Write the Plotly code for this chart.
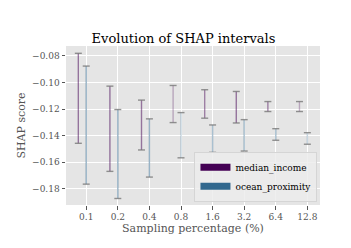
import plotly.graph_objects as go

sampling_labels = ["0.1", "0.2", "0.4", "0.8", "1.6", "3.2", "6.4", "12.8"]
median_income_low = [-0.1457, -0.1668, -0.1507, -0.1301, -0.1268, -0.1304, -0.1218, -0.1218]
median_income_high = [-0.0780, -0.1027, -0.1132, -0.1022, -0.1054, -0.1067, -0.1143, -0.1143]
ocean_proximity_low = [-0.1764, -0.1872, -0.1711, -0.1566, -0.1525, -0.1515, -0.1434, -0.1464]
ocean_proximity_high = [-0.0876, -0.1203, -0.1273, -0.1226, -0.1319, -0.1279, -0.1347, -0.1377]

series = [
    ("median_income", median_income_low, median_income_high, (68, 1, 84), "#440154", -0.25,
     [0.5, 0.5, 0.5, 0.28, 0.45, 0.5, 0.45, 0.28]),
    ("ocean_proximity", ocean_proximity_low, ocean_proximity_high, (49, 104, 142), "#31688e", 0.0,
     [0.5, 0.5, 0.5, 0.28, 0.42, 0.42, 0.42, 0.28]),
]

FONT = "DejaVu Serif"
fig = go.Figure()
for name, lows, highs, rgb, solid, offset, alphas in series:
    for i, (lo, hi) in enumerate(zip(lows, highs)):
        x = i + offset
        col = f"rgba({rgb[0]},{rgb[1]},{rgb[2]},{alphas[i]})"
        fig.add_trace(go.Scatter(x=[x, x], y=[lo, hi], mode="lines",
                                 line=dict(color=col, width=1.4),
                                 showlegend=False, hoverinfo="skip"))
        fig.add_trace(go.Scatter(x=[x, x], y=[lo, hi], mode="markers",
                                 marker=dict(symbol="line-ew", size=5,
                                             line=dict(color="rgba(120,120,120,0.8)", width=1.4)),
                                 showlegend=False, hoverinfo="skip"))
    fig.add_trace(go.Scatter(x=[None], y=[None], mode="lines", name=name,
                             line=dict(color=solid, width=7)))

fig.update_layout(
    width=351, height=248,
    margin=dict(l=56, r=39, t=38, b=51),
    paper_bgcolor="white", plot_bgcolor="#e5e5e5",
    font=dict(family=FONT, color="#555555", size=9),
    title=dict(text="Evolution of SHAP intervals", x=0.5, xanchor="center",
               y=1 - 30 / 248, yanchor="middle",
               font=dict(family=FONT, size=13, color="black")),
    xaxis=dict(range=[-0.64, 7.4], tickmode="array", tickvals=list(range(len(sampling_labels))),
               ticktext=sampling_labels, showgrid=True, gridcolor="white", gridwidth=1,
               zeroline=False, ticks="outside", ticklen=3.5, tickcolor="#555555",
               tickfont=dict(size=9, color="#555555"),
               title=dict(text="Sampling percentage (%)", standoff=2,
                          font=dict(size=11, color="#555555"))),
    yaxis=dict(range=[-0.1921, -0.0725], tickvals=[-0.18, -0.16, -0.14, -0.12, -0.10, -0.08],
               tickformat=".2f", showgrid=True, gridcolor="white", gridwidth=1,
               zeroline=False, ticks="outside", ticklen=3.5, tickcolor="#555555",
               tickfont=dict(size=9, color="#555555"),
               title=dict(text="SHAP score", standoff=4,
                          font=dict(size=11, color="#555555"))),
    legend=dict(x=0.99, xanchor="right", y=0.02, yanchor="bottom",
                bgcolor="rgba(236,236,236,0.85)", bordercolor="#d5d5d5", borderwidth=1,
                font=dict(family=FONT, size=9, color="black"),
                itemwidth=30, tracegroupgap=0),
)

fig.write_html("out.html")
